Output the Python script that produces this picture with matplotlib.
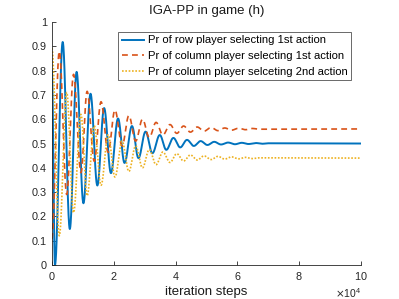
#!/usr/bin/env python3
import numpy as np
import matplotlib
matplotlib.use('Agg')
import matplotlib.pyplot as plt
from matplotlib.ticker import ScalarFormatter

# turning points (iteration step, probability)
row_steps = [0, 1000, 3500, 5800, 8000, 10200, 12500, 14700, 16900, 19100, 21400,
             23500, 25900, 28000, 30300, 32500, 34900, 37000, 39300, 41500, 43700,
             45900, 48100, 50300, 52500, 54700, 57000, 59200, 61400, 63600, 66000,
             68000, 70000, 100000]
row_pr = [0.80, 0.00, 0.918, 0.148, 0.795, 0.254, 0.705, 0.327, 0.646, 0.378, 0.603,
          0.420, 0.572, 0.440, 0.549, 0.460, 0.535, 0.474, 0.523, 0.484, 0.515,
          0.490, 0.510, 0.494, 0.507, 0.496, 0.504, 0.497, 0.503, 0.498, 0.502,
          0.499, 0.501, 0.500]

col_steps = [0, 2400, 4800, 7000, 9400, 11400, 13700, 15900, 18200, 20400, 22700,
             24900, 27100, 29300, 31500, 33700, 35900, 38200, 40400, 42600, 44800,
             47000, 49200, 51500, 53700, 55900, 58100, 60400, 62600, 64800, 67000,
             100000]
col_pr1 = [0.107, 0.880, 0.290, 0.785, 0.380, 0.715, 0.427, 0.672, 0.464, 0.638, 0.490,
           0.615, 0.510, 0.600, 0.525, 0.587, 0.535, 0.578, 0.542, 0.572, 0.547,
           0.568, 0.551, 0.566, 0.553, 0.564, 0.555, 0.563, 0.557, 0.562, 0.559,
           0.560]

labels = ['Pr of row player selecting 1st action',
          'Pr of column player selecting 1st action',
          'Pr of column player selceting 2nd action']


def smooth(xs, ys, n=40):
    # join turning points with half-cosine arcs
    X, Y = [], []
    for i in range(len(xs) - 1):
        t = np.linspace(0, 1, n, endpoint=False)
        X.append(xs[i] + (xs[i+1] - xs[i]) * t)
        Y.append(ys[i] + (ys[i+1] - ys[i]) * (1 - np.cos(np.pi * t)) / 2)
    X.append([xs[-1]])
    Y.append([ys[-1]])
    return np.concatenate(X), np.concatenate(Y)


plt.rcParams['font.family'] = ['Liberation Sans', 'DejaVu Sans']

fig = plt.figure(figsize=(3.99, 2.99), dpi=100)
ax = fig.add_axes([0.130, 0.114, 0.775, 0.812])

x1, y1 = smooth(row_steps, row_pr)
x2, y2 = smooth(col_steps, col_pr1)

ax.plot(x1, y1, color=(0, 0.447, 0.741), lw=1.4, label=labels[0])
ax.plot(x2, y2, color=(0.850, 0.325, 0.098), lw=1.2, ls=(0, (3.5, 2.5)), label=labels[1])
ax.plot(x2, 1 - y2, color=(0.929, 0.694, 0.125), lw=1.2, ls=(0, (1, 1)), label=labels[2])

ax.set_xlim(0, 100000)
ax.set_ylim(0, 1)
ax.set_yticks(np.arange(0, 1.01, 0.1))
ax.set_yticklabels(['0', '0.1', '0.2', '0.3', '0.4', '0.5', '0.6', '0.7', '0.8', '0.9', '1'])
ax.set_xticks(np.arange(0, 100001, 20000))
fmt = ScalarFormatter(useMathText=True)
fmt.set_powerlimits((4, 4))
ax.xaxis.set_major_formatter(fmt)
ax.xaxis.get_offset_text().set_fontsize(7.5)
ax.xaxis.get_offset_text().set_color('#404040')

for s in ['top', 'right']:
    ax.spines[s].set_visible(False)
for s in ['left', 'bottom']:
    ax.spines[s].set_color('#262626')
    ax.spines[s].set_linewidth(0.6)
ax.tick_params(direction='in', length=3, width=0.6, color='#262626',
               labelsize=7.8, labelcolor='#262626')

ax.set_title('IGA-PP in game (h)', fontsize=9.5, color='#1a1a1a', pad=6)
ax.set_xlabel('iteration steps', fontsize=9.5, color='#1a1a1a', labelpad=3)

leg = ax.legend(loc='upper right', bbox_to_anchor=(0.968, 0.959), fontsize=8.1,
                frameon=True, fancybox=False, handlelength=2.0, handletextpad=0.35,
                borderpad=0.3, labelspacing=0.5, borderaxespad=0)
leg.get_frame().set_edgecolor('#262626')
leg.get_frame().set_linewidth(0.6)

fig.savefig('out.png', dpi=100)
